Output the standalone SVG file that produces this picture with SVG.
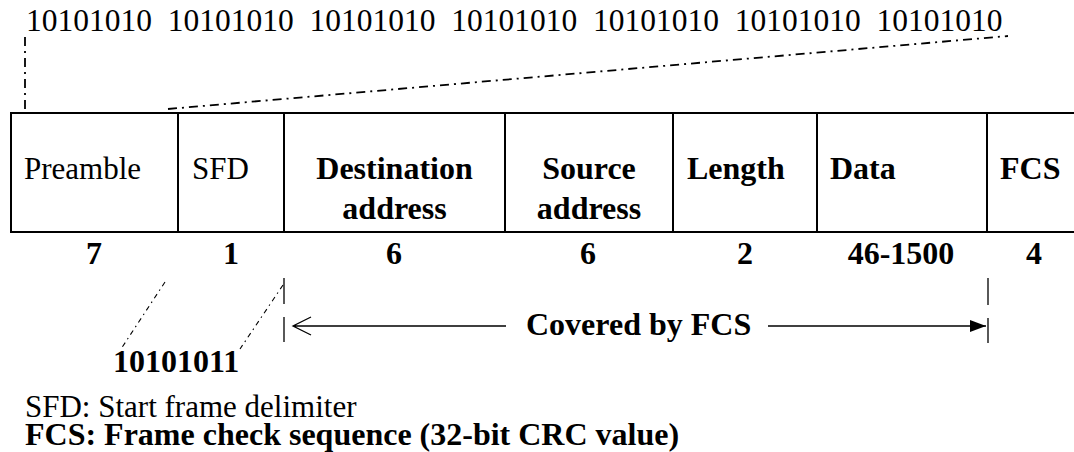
<svg xmlns="http://www.w3.org/2000/svg" width="1074" height="452" viewBox="0 0 1074 452">
<defs>
<style>
.r{font-family:"Liberation Serif","Times New Roman",serif;font-size:31px;fill:#000}
.b{font-family:"Liberation Serif","Times New Roman",serif;font-size:32px;font-weight:bold;fill:#000}
.m{text-anchor:middle}
.box{fill:none;stroke:#000;stroke-width:2}
.dd{fill:none;stroke:#000;stroke-width:1.8;stroke-dasharray:9 5 2 5}
.dt{fill:none;stroke:#000;stroke-width:1.1;stroke-dasharray:5 4 1.5 4}
.bar{fill:none;stroke:#000;stroke-width:1.3}
</style>
<marker id="tri" viewBox="0 0 16 12" refX="16" refY="6" markerWidth="16" markerHeight="12" markerUnits="userSpaceOnUse" orient="auto">
<path d="M0,0 L16,6 L0,12 Z" fill="#000"/>
</marker>
</defs>
<rect width="1074" height="452" fill="#fff"/>
<text class="r" x="26" y="31" style="font-size:31.5px" xml:space="preserve">10101010  10101010  10101010  10101010  10101010  10101010  10101010</text>
<path class="box" d="M11,113 H1074 M11,232 H1074 M11,112 V233"/>
<g id="preamble"><path class="box" d="M178,113 V232"/><text class="r" x="24" y="179">Preamble</text><text class="b m" x="94" y="264">7</text></g>
<g id="sfd"><path class="box" d="M284,113 V232"/><text class="r" x="192" y="179">SFD</text><text class="b m" x="231" y="264">1</text></g>
<g id="dest"><path class="box" d="M505,113 V232"/><text class="b m" x="394.5" y="179">Destination</text><text class="b m" x="394.5" y="219">address</text><text class="b m" x="394" y="264">6</text></g>
<g id="source"><path class="box" d="M673,113 V232"/><text class="b m" x="589" y="179">Source</text><text class="b m" x="589" y="219">address</text><text class="b m" x="588" y="264">6</text></g>
<g id="length"><path class="box" d="M817,113 V232"/><text class="b" x="687" y="179">Length</text><text class="b m" x="745" y="264">2</text></g>
<g id="data"><path class="box" d="M987,113 V232"/><text class="b" x="830" y="179">Data</text><text class="b m" x="901" y="264">46-1500</text></g>
<g id="fcs"><text class="b" x="1000" y="179">FCS</text><text class="b m" x="1034" y="264">4</text></g>
<g id="connectors">
<path class="dd" d="M25,37 V109"/>
<path class="dd" d="M168,109 L1008,36"/>
<path class="dt" d="M165,282 L121,349"/>
<path class="dt" d="M283,285 L240,349"/>
<path class="bar" d="M284,278 V304 M284,317 V342 M988,278 V305 M988,318 V343"/>
<path class="bar" d="M506,326 H293 M311,317 L293,326 L311,335"/>
<path class="bar" d="M768,326 H986" marker-end="url(#tri)"/>
</g>
<g id="sfdval"><text class="b" x="113" y="372">10101011</text></g>
<g id="covered"><text class="b" x="526" y="335">Covered by FCS</text></g>
<g id="legend"><text class="r" x="25" y="417">SFD: Start frame delimiter</text><text class="b" x="25" y="445">FCS: Frame check sequence (32-bit CRC value)</text></g>
</svg>
